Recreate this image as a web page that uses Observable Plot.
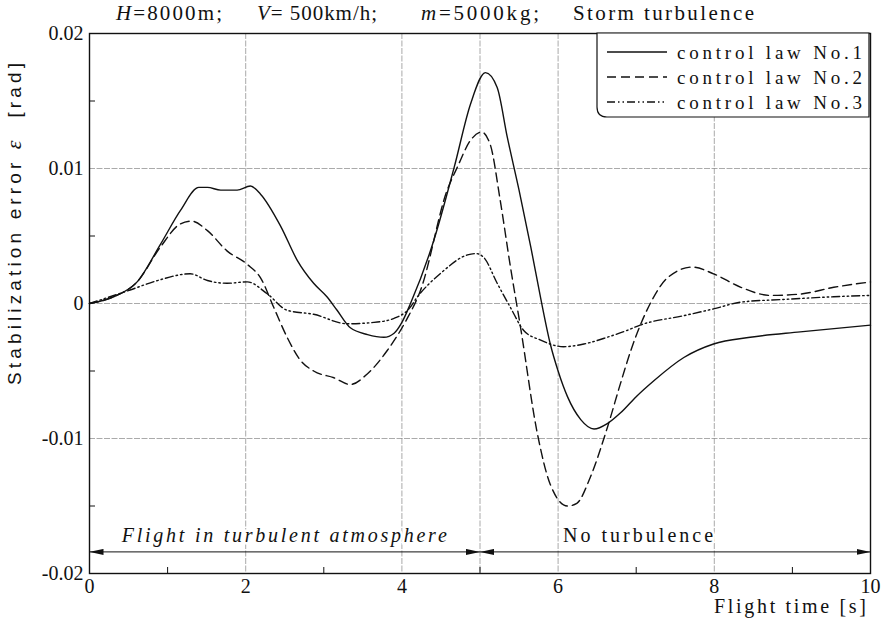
<!DOCTYPE html>
<html><head><meta charset="utf-8">
<script src="https://cdn.jsdelivr.net/npm/d3@7"></script>
<script src="https://cdn.jsdelivr.net/npm/@observablehq/plot@0.6"></script>
<style>body{margin:0;background:#fff;} svg{display:block;}</style>
</head><body><div id="chart"></div>
<script>
// ---- data ----
const lawNames = ["control law No.1", "control law No.2", "control law No.3"];
const t1 = [0, 0.31, 0.61, 0.91, 1.165, 1.40, 1.51, 1.68, 1.89, 2.06, 2.19, 2.45, 2.66, 2.87, 3.04, 3.17, 3.34, 3.56, 3.77, 3.90, 4.00, 4.11, 4.41, 4.67, 4.88, 5.07, 5.22, 5.35, 5.50, 5.65, 5.78, 5.90, 6.00, 6.12, 6.29, 6.46, 6.63, 6.80, 7.00, 7.23, 7.61, 7.99, 8.46, 9.10, 10.0];
const e1 = [0, 0.0005, 0.0016, 0.0044, 0.0069, 0.0086, 0.0086, 0.0084, 0.0084, 0.0087, 0.0081, 0.0057, 0.0032, 0.0015, 0.0005, -0.0005, -0.0018, -0.0023, -0.0025, -0.0022, -0.0014, 0, 0.0047, 0.0101, 0.0148, 0.0171, 0.0160, 0.0123, 0.0084, 0.0042, 0.0003, -0.0030, -0.0050, -0.0069, -0.0086, -0.0093, -0.0089, -0.0081, -0.0069, -0.0057, -0.0040, -0.0030, -0.0025, -0.0021, -0.0016];
const t2 = [0, 0.31, 0.61, 0.91, 1.165, 1.31, 1.51, 1.76, 2.02, 2.19, 2.36, 2.53, 2.70, 2.87, 3.13, 3.34, 3.56, 3.81, 4.05, 4.24, 4.58, 4.71, 4.88, 5.02, 5.13, 5.26, 5.39, 5.52, 5.73, 5.90, 6.12, 6.24, 6.41, 6.63, 6.80, 6.93, 7.18, 7.40, 7.72, 7.99, 8.34, 8.72, 9.10, 9.53, 10.0];
const e2 = [0, 0.0005, 0.0016, 0.0042, 0.0059, 0.0061, 0.0054, 0.0039, 0.0029, 0.0019, -0.0003, -0.0025, -0.0042, -0.0050, -0.0055, -0.0060, -0.0052, -0.0035, -0.0013, 0.0010, 0.0084, 0.0101, 0.0121, 0.0127, 0.0118, 0.0076, 0.0027, -0.0018, -0.0095, -0.0134, -0.0150, -0.0148, -0.0129, -0.0092, -0.0059, -0.0035, 0, 0.0019, 0.0027, 0.0022, 0.0012, 0.0006, 0.0007, 0.0012, 0.0016];
const t3 = [0, 0.52, 0.87, 1.29, 1.51, 1.76, 2.02, 2.28, 2.53, 2.87, 3.30, 3.64, 3.90, 4.09, 4.20, 4.49, 4.84, 4.95, 5.05, 5.22, 5.39, 5.56, 5.77, 6.07, 6.33, 6.63, 6.88, 7.05, 7.61, 7.99, 8.34, 8.89, 9.53, 10.0];
const e3 = [0, 0.0010, 0.0017, 0.0022, 0.0017, 0.0015, 0.0016, 0.0007, -0.0005, -0.0008, -0.0015, -0.0014, -0.0011, -0.0004, 0.0005, 0.0022, 0.0036, 0.0037, 0.0034, 0.0015, -0.0003, -0.0020, -0.0027, -0.0032, -0.0030, -0.0025, -0.0020, -0.0016, -0.0009, -0.0004, 0.0001, 0.0003, 0.0005, 0.0006];

const xTicks = [0, 2, 4, 6, 8, 10];
const xMinor = [1, 3, 5, 7, 9];
const yTicks = [-0.02, -0.01, 0, 0.01, 0.02];
const yTickLabels = ["-0.02", "-0.01", "0", "0.01", "0.02"];
const yMinor = [-0.015, -0.005, 0.005, 0.015];
const gridXValues = [2, 4, 5, 6, 8];
const gridYValues = [-0.01, 0, 0.01];

const annotLabels = ["Flight in turbulent atmosphere", "No turbulence"];
const annotTextX = [0.42, 6.07];
const annotTextY = [-0.0172, -0.0172];
const arrowX1 = [0, 5];
const arrowX2 = [5, 10];
const arrowY = [-0.0184, -0.0184];

// ---- build tables ----
const series = [[t1, e1], [t2, e2], [t3, e3]].map(([t, e], k) =>
  t.map((v, i) => ({law: lawNames[k], t: v, e: e[i]})));
const arrows = arrowX1.map((x1, i) => ({x1, x2: arrowX2[i], y: arrowY[i]}));
const dashes = [null, "9,5", "8,3,1.5,3,1.5,3"];
const ink = "#111";
const gridStyle = {stroke: "#888", strokeOpacity: 0.9, strokeWidth: 0.8, strokeDasharray: "6,1.5"};

const plot = Plot.plot({
  width: 882, height: 621,
  marginTop: 33, marginBottom: 48, marginLeft: 89, marginRight: 12,
  style: {fontFamily: "'Liberation Serif', serif", fontSize: "20px", color: ink, background: "#fff"},
  x: {domain: [0, 10]},
  y: {domain: [-0.02, 0.02]},
  marks: [
    Plot.gridX(gridXValues, gridStyle),
    Plot.gridY(gridYValues, gridStyle),
    Plot.axisX(xTicks, {tickSize: 0, tickPadding: 5, tickFormat: d => String(d), label: null}),
    Plot.axisX(xMinor, {tickSize: 6, dy: -6, tickFormat: () => "", label: null, stroke: ink}),
    Plot.axisY(yTicks, {tickSize: 0, tickPadding: 6, tickFormat: d => yTickLabels[yTicks.indexOf(d)], label: null}),
    Plot.axisY(yMinor, {tickSize: 6, dx: 6, tickFormat: () => "", label: null, stroke: ink}),
    Plot.frame({stroke: ink, strokeWidth: 1.4}),
    ...series.map((s, k) => Plot.line(s, {x: "t", y: "e", curve: "monotone-x", stroke: ink, strokeWidth: 1.4, strokeDasharray: dashes[k]})),
    Plot.link(arrows, {x1: "x1", x2: "x2", y1: "y", y2: "y", stroke: ink, strokeWidth: 1})
  ]
});
document.getElementById("chart").appendChild(plot);

// ---- decorations ----
const svg = d3.select(plot);
const sx = plot.scale("x"), sy = plot.scale("y");
const defs = svg.append("defs");
defs.append("marker").attr("id", "ah").attr("viewBox", "0 0 14 6").attr("refX", 14).attr("refY", 3)
  .attr("markerWidth", 14).attr("markerHeight", 6).attr("markerUnits", "userSpaceOnUse")
  .attr("orient", "auto-start-reverse")
  .append("path").attr("d", "M0,0L14,3L0,6Z").attr("fill", ink);
svg.selectAll('g[aria-label="link"] path').attr("marker-start", "url(#ah)").attr("marker-end", "url(#ah)");

// annotation texts
annotLabels.forEach((lab, i) => {
  svg.append("text").attr("x", sx.apply(annotTextX[i])).attr("y", sy.apply(annotTextY[i])).attr("dy", "0.35em")
    .attr("text-anchor", "start")
    .attr("font-size", 20).attr("font-style", i === 0 ? "italic" : "normal")
    .attr("fill", ink).attr("stroke", "#fff").attr("stroke-width", 5).attr("paint-order", "stroke")
    .attr("textLength", i === 0 ? 325 : 150).attr("lengthAdjust", "spacing").text(lab);
});

// title
const titleParts = [["H", "=8000m;"], ["V", "= 500km/h;"], ["m", "=5000kg;"], ["", "Storm turbulence"]];
const titleX = [116, 257, 421, 573];
const titleW = [106, 120, 118, 181];
titleParts.forEach(([v, rest], i) => {
  const t = svg.append("text").attr("x", titleX[i]).attr("y", 20).attr("text-anchor", "start")
    .attr("font-size", 21).attr("fill", ink)
    .attr("textLength", titleW[i]).attr("lengthAdjust", "spacing");
  if (v) t.append("tspan").attr("font-style", "italic").text(v);
  t.append("tspan").text(rest);
});

// y label
const yl = svg.append("text").attr("transform", "translate(21,224) rotate(-90)").attr("text-anchor", "middle")
  .attr("font-family", "'Liberation Sans', sans-serif").attr("font-size", 19).attr("fill", ink)
  .attr("textLength", 322).attr("lengthAdjust", "spacing");
yl.append("tspan").text("Stabilization error ");
yl.append("tspan").attr("font-style", "italic").attr("font-family", "'Liberation Serif', serif").attr("font-size", 22).text("ε");
yl.append("tspan").text("  [rad]");

// x label
svg.append("text").attr("x", 866).attr("y", 613).attr("text-anchor", "end").attr("font-size", 20).attr("fill", ink)
  .attr("textLength", 152).attr("lengthAdjust", "spacing").text("Flight time [s]");

// legend
const lg = svg.append("g");
lg.append("path").attr("d", "M597,33H869V117H607Q597,117 597,107Z").attr("fill", "#fff").attr("stroke", ink).attr("stroke-width", 1.2);
const legY = [52, 77, 102];
lawNames.forEach((name, k) => {
  lg.append("line").attr("x1", 607).attr("x2", 667).attr("y1", legY[k]).attr("y2", legY[k])
    .attr("stroke", ink).attr("stroke-width", 1.4).attr("stroke-dasharray", dashes[k]);
  lg.append("text").attr("x", 677).attr("y", legY[k]).attr("dy", "0.35em").attr("text-anchor", "start")
    .attr("font-size", 19).attr("fill", ink)
    .attr("textLength", 185).attr("lengthAdjust", "spacing").text(name);
});
</script></body></html>
